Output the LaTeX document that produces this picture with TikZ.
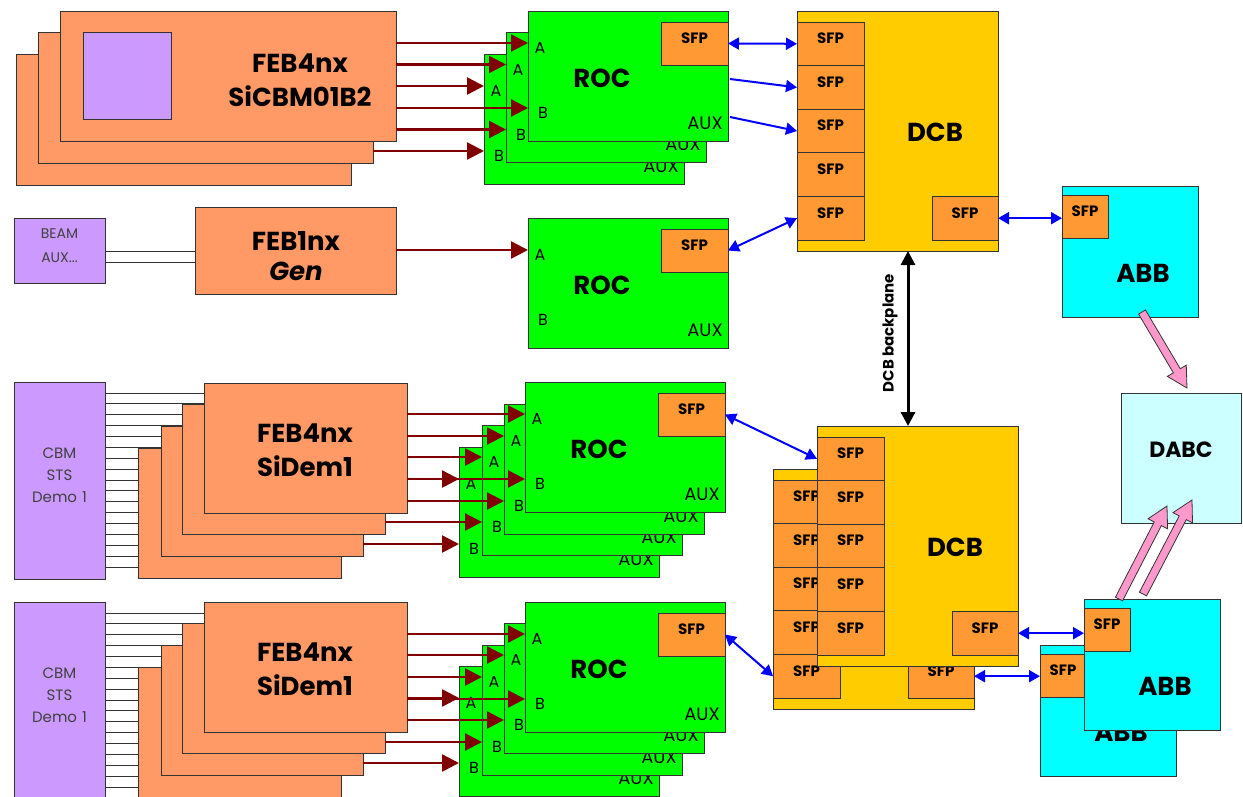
\documentclass[tikz,border=0pt]{standalone}
\usepackage{fontspec}
\setmainfont{Poppins}
\usetikzlibrary{arrows.meta,fit,calc}
\pgfdeclarelayer{bg}
\pgfsetlayers{bg,main}
\definecolor{febc}{HTML}{FF9966}
\definecolor{rocc}{HTML}{00FF00}
\definecolor{sfpc}{HTML}{FF9933}
\definecolor{dcbc}{HTML}{FFCC00}
\definecolor{abbc}{HTML}{00FFFF}
\definecolor{dabcc}{HTML}{CCFFFF}
\definecolor{purpc}{HTML}{CC99FF}
\definecolor{maroonc}{HTML}{800000}
\definecolor{pinkc}{HTML}{FF99CC}
\definecolor{edgec}{HTML}{333333}
\definecolor{bluec}{HTML}{0000FF}
\definecolor{greytxt}{HTML}{404040}
\tikzset{
  bx/.style={draw=edgec, line width=0.9pt, inner sep=0pt, outer sep=0pt},
  febb/.style={bx, fill=febc},
  rocb/.style={bx, fill=rocc},
  sfpb/.style={bx, fill=sfpc, font=\bfseries\fontsize{15}{15}\selectfont},
  dcbb/.style={bx, fill=dcbc},
  abbb/.style={bx, fill=abbc},
  dabcb/.style={bx, fill=dabcc, font=\bfseries\fontsize{22}{22}\selectfont},
  purpb/.style={bx, fill=purpc},
  bigt/.style={inner sep=0pt, align=center, font=\bfseries\fontsize{26}{34}\selectfont},
  lblA/.style={inner sep=0pt, font=\fontsize{16}{16}\selectfont},
  lblX/.style={inner sep=0pt, font=\fontsize{18}{18}\selectfont},
  srctxt/.style={text=greytxt, align=center},
  ribbon/.style={draw=edgec, line width=0.8pt},
  marr/.style={draw=maroonc, line width=2.5pt, -{Triangle[length=17pt,width=17pt]}},
  barr2/.style={draw=bluec, line width=2pt, {Triangle[length=11pt,width=12pt]}-{Triangle[length=11pt,width=12pt]}},
  barr1/.style={draw=bluec, line width=2pt, -{Triangle[length=11pt,width=12pt]}},
  bparr/.style={draw=black, line width=3pt, {Triangle[length=14pt,width=14pt]}-{Triangle[length=14pt,width=14pt]}},
  fatarr/.style={draw=edgec, line width=0.8pt, fill=pinkc, line join=miter},
}
% ROC board: name, x, y
\newcommand\rocunit[3]{%
  \node[rocb, fit={(#2,#3) (#2+200,#3+130)}] (#1) {};
  \node[lblA] (#1lA) at (#2+12,#3+37) {A};
  \node[lblA] (#1lB) at (#2+15,#3+102) {B};
  \node[lblX] (#1lX) at (#2+177,#3+112) {AUX};
  \coordinate (#1a) at (#2,#3+32);
  \coordinate (#1b) at (#2,#3+97);
}
\newcommand\rocfront[3]{%
  \rocunit{#1}{#2}{#3}
  \node[sfpb, fit={(#2+133,#3+11) (#2+200,#3+54)}] (#1s) {SFP};
  \node[bigt] (#1t) at (#2+74,#3+67) {ROC};
}
% DCB: name, x, y
\newcommand\dcbunit[3]{%
  \node[dcbb, fit={(#2,#3) (#2+201,#3+240)}] (#1) {};
  \foreach \k in {1,...,5}{%
    \node[sfpb, fit={(#2,{#3+11+43.6*(\k-1)}) (#2+67,{#3+11+43.6*\k})}] (#1s\k) {SFP};}
  \node[sfpb, fit={(#2+135,#3+185.4) (#2+201,#3+229)}] (#1r) {SFP};
  \node[bigt] (#1t) at (#2+138,#3+121) {DCB};
}
% ABB: name, x, y
\newcommand\abbunit[3]{%
  \node[abbb, fit={(#2,#3) (#2+136,#3+131)}] (#1) {};
  \node[sfpb, fit={(#2,#3+9) (#2+46,#3+52)}] (#1s) {SFP};
  \node[bigt] (#1t) at (#2+81,#3+87) {ABB};
}
\newcommand\marrow[2]{\draw[marr] (#1.east |- #2) -- (#2);}
\newcommand\fatarrow[2]{%
  \path let \p1=($(#2)-(#1)$) in \pgfextra{%
    \pgfmathsetmacro\fatang{atan2(\y1,\x1)}%
    \pgfmathsetmacro\fatlen{veclen(\x1,\y1)}%
    \xdef\fatang{\fatang}\xdef\fatlen{\fatlen}};
  \draw[fatarr, shift={(#1)}, rotate=\fatang] (0,4) -- (\fatlen-20,4) -- (\fatlen-20,11)
    -- (\fatlen,0) -- (\fatlen-20,-11) -- (\fatlen-20,-4) -- (0,-4) -- cycle;
}
\begin{document}
\begin{tikzpicture}[x=1pt,y=-1pt]
\useasboundingbox (0,0) rectangle (1243,796);
\begin{pgfonlayer}{bg}
\fill[white] (0,0) rectangle (1243,796);
\end{pgfonlayer}

% ---------------- top group ----------------
\node[febb, fit={(16,54) (351,185)}] (febT3) {};
\node[febb, fit={(38,32.5) (373,163.5)}] (febT2) {};
\node[febb, fit={(60,11) (396,141)}] (febT1) {};
\node[purpb, fit={(83,32) (171,119)}] (chipT) {};
\node[bigt] (febT1t) at (300,80) {FEB4nx\\SiCBM01B2};

\rocunit{rocT3}{484}{54}
\rocunit{rocT2}{506}{32.5}
\rocfront{rocT1}{528}{11}

\node[purpb, fit={(14,218) (105,283)}, font=\fontsize{14}{24}\selectfont, srctxt] (beam) {BEAM\\AUX...};
\node[febb, fit={(195,207) (396,294)}] (febG) {};
\node[bigt, font=\bfseries\fontsize{26}{30}\selectfont] (febGt) at (296,256) {FEB1nx\\\textit{Gen}};
\rocfront{rocG}{528}{218}

\dcbunit{dcbT}{797}{11}
\abbunit{abbT}{1062}{186}
\node[dabcb, fit={(1121,393) (1241,523)}] (dabc) {DABC};

% ---------------- middle group ----------------
\node[purpb, fit={(14,382) (105,579)}, font=\fontsize{15}{22}\selectfont, srctxt] (cbmM) {CBM\\STS\\Demo 1};
\node[febb, fit={(138,448) (341,578)}] (febM4) {};
\node[febb, fit={(161,426) (363,556)}] (febM3) {};
\node[febb, fit={(182,404) (385,534)}] (febM2) {};
\node[febb, fit={(204,383) (407,513)}] (febM1) {};
\node[bigt] (febM1t) at (305,450) {FEB4nx\\SiDem1};
\rocunit{rocM4}{459}{447}
\rocunit{rocM3}{482}{425}
\rocunit{rocM2}{504}{404}
\rocfront{rocM1}{525}{382}

% ---------------- bottom group ----------------
\node[purpb, fit={(14,602) (105,799)}, font=\fontsize{15}{22}\selectfont, srctxt] (cbmL) {CBM\\STS\\Demo 1};
\node[febb, fit={(138,667) (341,797)}] (febL4) {};
\node[febb, fit={(161,645) (363,775)}] (febL3) {};
\node[febb, fit={(182,623) (385,753)}] (febL2) {};
\node[febb, fit={(204,602) (407,732)}] (febL1) {};
\node[bigt] (febL1t) at (305,669) {FEB4nx\\SiDem1};
\rocunit{rocL4}{459}{666}
\rocunit{rocL3}{482}{645}
\rocunit{rocL2}{504}{623}
\rocfront{rocL1}{525}{602}

% lower DCBs and ABBs
\dcbunit{dcbB2}{773}{469}
\dcbunit{dcbB1}{817}{426}
\abbunit{abbB2}{1040}{645}
\abbunit{abbB1}{1084}{599}

% ---------------- ribbon cables (behind boards) ----------------
\begin{pgfonlayer}{bg}
\foreach \k in {0,...,16}{%
  \path ($(cbmM.north east)+(0,{11+10.875*\k})$) coordinate (rm);
  \draw[ribbon] (rm) -- (rm -| febM1.west);
  \path ($(cbmL.north east)+(0,{11+10.875*\k})$) coordinate (rl);
  \draw[ribbon] (rl) -- (rl -| febL1.west);
}
\path ($(beam.north east)+(0,33)$) coordinate (bm1);
\path ($(beam.north east)+(0,44)$) coordinate (bm2);
\draw[ribbon] (bm1) -- (bm1 -| febG.west);
\draw[ribbon] (bm2) -- (bm2 -| febG.west);
\end{pgfonlayer}

% ---------------- FEB -> ROC data links ----------------
\marrow{febT1}{rocT1a}
\marrow{febT1}{rocT2a}
\marrow{febT1}{rocT3a}
\marrow{febT1}{rocT1b}
\marrow{febT1}{rocT2b}
\marrow{febT2}{rocT3b}
\marrow{febG}{rocGa}
\marrow{febM1}{rocM1a}
\marrow{febM1}{rocM2a}
\marrow{febM1}{rocM3a}
\marrow{febM1}{rocM4a}
\marrow{febM1}{rocM1b}
\marrow{febM1}{rocM2b}
\marrow{febM2}{rocM3b}
\marrow{febM3}{rocM4b}
\marrow{febL1}{rocL1a}
\marrow{febL1}{rocL2a}
\marrow{febL1}{rocL3a}
\marrow{febL1}{rocL4a}
\marrow{febL1}{rocL1b}
\marrow{febL1}{rocL2b}
\marrow{febL2}{rocL3b}
\marrow{febL3}{rocL4b}

% ---------------- optical links ----------------
\coordinate (rocT2out) at ($(rocT1.north east)+(2,68)$);
\coordinate (rocT3out) at ($(rocT1.north east)+(2,106)$);
\draw[barr2] (rocT1s.east) -- (dcbTs1.west);
\draw[barr1] (rocT2out) -- (dcbTs2.west);
\draw[barr1] (rocT3out) -- (dcbTs3.west);
\draw[barr2] (rocGs.east) -- (dcbTs5.west);
\draw[barr2] (dcbTr.east) -- (dcbTr.east -| abbTs.west);
\draw[barr2] (rocM1s.east) -- (dcbB1s1.west);
\draw[barr2] (rocL1s.east) -- (dcbB2s5.west);
\draw[barr2] (dcbB1r.east) -- (dcbB1r.east -| abbB1s.west);
\draw[barr2] (dcbB2r.east) -- (dcbB2r.east -| abbB2s.west);

% ---------------- DCB backplane ----------------
\coordinate (bpx) at (908,0);
\draw[bparr] (dcbT.south -| bpx) -- (dcbB1.north -| bpx);
\node[rotate=90, inner sep=0pt, font=\bfseries\fontsize{15}{15}\selectfont] (bplbl) at (890,333) {DCB backplane};

% ---------------- ABB -> DABC ----------------
\coordinate (pk1a) at (1142,312);
\coordinate (pk1b) at (1187,388);
\coordinate (pk2a) at (1119,599);
\coordinate (pk2b) at (1167,506);
\coordinate (pk3a) at (1143,594);
\coordinate (pk3b) at (1192,500);
\fatarrow{pk1a}{pk1b}
\fatarrow{pk2a}{pk2b}
\fatarrow{pk3a}{pk3b}
\end{tikzpicture}
\end{document}
